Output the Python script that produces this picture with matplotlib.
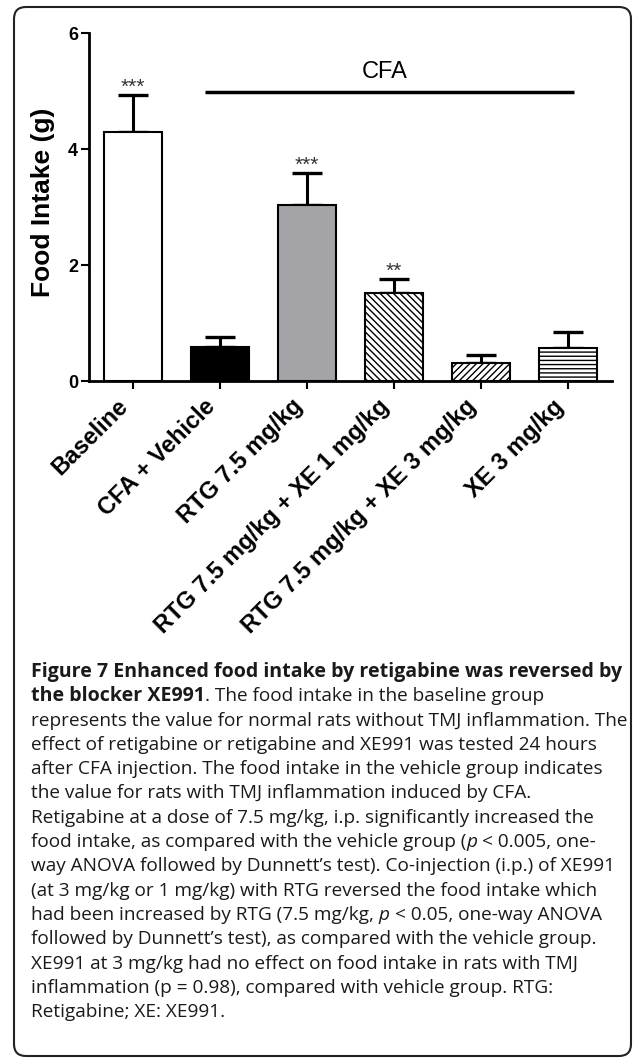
import matplotlib
matplotlib.use("Agg")
import matplotlib.pyplot as plt
from matplotlib.font_manager import FontProperties
from matplotlib.patches import FancyBboxPatch
from matplotlib.transforms import IdentityTransform
import numpy as np

# ---------------- data ----------------
categories = ['Baseline', 'CFA + Vehicle', 'RTG 7.5 mg/kg',
              'RTG 7.5 mg/kg + XE 1 mg/kg', 'RTG 7.5 mg/kg + XE 3 mg/kg',
              'XE 3 mg/kg']
means = [4.29, 0.59, 3.03, 1.52, 0.31, 0.57]
sem = [0.64, 0.17, 0.56, 0.24, 0.14, 0.27]
signif = ['***', '', '***', '**', '', '']
yticks = [0, 2, 4, 6]
ylabel = 'Food Intake (g)'
group_label = 'CFA'

caption_lines = [
    [("Figure 7 Enhanced food intake by retigabine was reversed by", 'b')],
    [("the blocker XE991", 'b'), (". The food intake in the baseline group", 'r')],
    [("represents the value for normal rats without TMJ inflammation. The", 'r')],
    [("effect of retigabine or retigabine and XE991 was tested 24 hours", 'r')],
    [("after CFA injection. The food intake in the vehicle group indicates", 'r')],
    [("the value for rats with TMJ inflammation induced by CFA.", 'r')],
    [("Retigabine at a dose of 7.5 mg/kg, i.p. significantly increased the", 'r')],
    [("food intake, as compared with the vehicle group (", 'r'), ("p", 'i'), (" < 0.005, one-", 'r')],
    [("way ANOVA followed by Dunnett\u2019s test). Co-injection (i.p.) of XE991", 'r')],
    [("(at 3 mg/kg or 1 mg/kg) with RTG reversed the food intake which", 'r')],
    [("had been increased by RTG (7.5 mg/kg, ", 'r'), ("p", 'i'), (" < 0.05, one-way ANOVA", 'r')],
    [("followed by Dunnett\u2019s test), as compared with the vehicle group.", 'r')],
    [("XE991 at 3 mg/kg had no effect on food intake in rats with TMJ", 'r')],
    [("inflammation (p = 0.98), compared with vehicle group. RTG:", 'r')],
    [("Retigabine; XE: XE991.", 'r')],
]

# ---------------- styles ----------------
fills = ['white', 'black', '#a3a3a8', 'white', 'white', 'white']
hatches = [None, None, None, '\\\\\\\\\\', '/////', '----']

W, H = 633, 1060
fig = plt.figure(figsize=(W / 100, H / 100), dpi=100)
fig.patch.set_facecolor('white')
plt.rcParams['hatch.linewidth'] = 1.0

chart_font = 'Liberation Sans'
ax = fig.add_axes([89 / W, (H - 381) / H, (612 - 89) / W, (381 - 33) / H])
x = np.arange(len(categories))
ax.bar(x, means, width=0.667, color=fills, edgecolor='black', linewidth=1.5,
       hatch=None, zorder=3)
for i, b in enumerate(ax.patches):
    if hatches[i]:
        b.set_hatch(hatches[i])
ax.errorbar(x, means, yerr=[np.zeros(len(sem)), sem], fmt='none', ecolor='black',
            elinewidth=2.2, capsize=11, capthick=2.4, zorder=2)
for i, s in enumerate(signif):
    if s:
        ax.text(x[i], means[i] + sem[i] + 0.03, s, ha='center', va='baseline',
                fontsize=15, color='#333333', family=chart_font)

ax.plot([0.83, 5.06], [4.98, 4.98], color='black', lw=2.5, clip_on=False,
        solid_capstyle='butt')
ax.text(2.89, 5.33, group_label, ha='center', va='center', fontsize=17,
        family=chart_font)

ax.set_xlim(-0.5, 5.5)
ax.set_ylim(0, 6)
ax.set_yticks(yticks)
ax.set_yticklabels([str(t) for t in yticks], fontsize=13, fontweight='bold',
                   family=chart_font)
ax.set_xticks(x)
ax.set_xticklabels(categories, rotation=45, ha='right', fontsize=17,
                   fontweight='bold', family=chart_font)
for sp in ['top', 'right']:
    ax.spines[sp].set_visible(False)
for sp in ['left', 'bottom']:
    ax.spines[sp].set_linewidth(2)
ax.tick_params(axis='both', length=6, width=1.5, pad=2)
ax.tick_params(axis='x', pad=4)

fig.text(43 / W, 1 - 202 / H, ylabel, rotation=90, ha='center', va='center',
         fontsize=19, fontweight='bold', family=chart_font)

# ---------------- caption ----------------
cap_family = 'Open Sans'
fps = {
    'r': FontProperties(family=cap_family, size=13.65),
    'b': FontProperties(family=cap_family, size=14.1, weight='bold'),
    'i': FontProperties(family=cap_family, size=13.65, style='italic'),
}
renderer = fig.canvas.get_renderer()

def tw(s, fp):
    w, h, d = renderer.get_text_width_height_descent(s, fp, ismath=False)
    return w

space_w = {k: tw('a a', fp) - tw('aa', fp) for k, fp in fps.items()}
x0 = 31
y0 = 677
dy = 24.3
for li, segs in enumerate(caption_lines):
    xx = x0
    yy = y0 + li * dy
    for s, st in segs:
        fp = fps[st]
        lead = len(s) - len(s.lstrip(' '))
        trail = len(s) - len(s.rstrip(' '))
        core = s.strip(' ')
        xx += lead * space_w[st]
        fig.text(xx / W, 1 - yy / H, core, fontproperties=fp, ha='left',
                 va='baseline', color='#1a1a1a')
        xx += tw(core, fp) + trail * space_w[st]

border = FancyBboxPatch((14, 4), 631 - 14, 1053 - 4,
                        boxstyle='round,pad=0,rounding_size=12',
                        transform=IdentityTransform(), facecolor='none',
                        edgecolor='#222222', linewidth=1.5)
fig.patches.append(border)

fig.savefig('out.png', dpi=100)
